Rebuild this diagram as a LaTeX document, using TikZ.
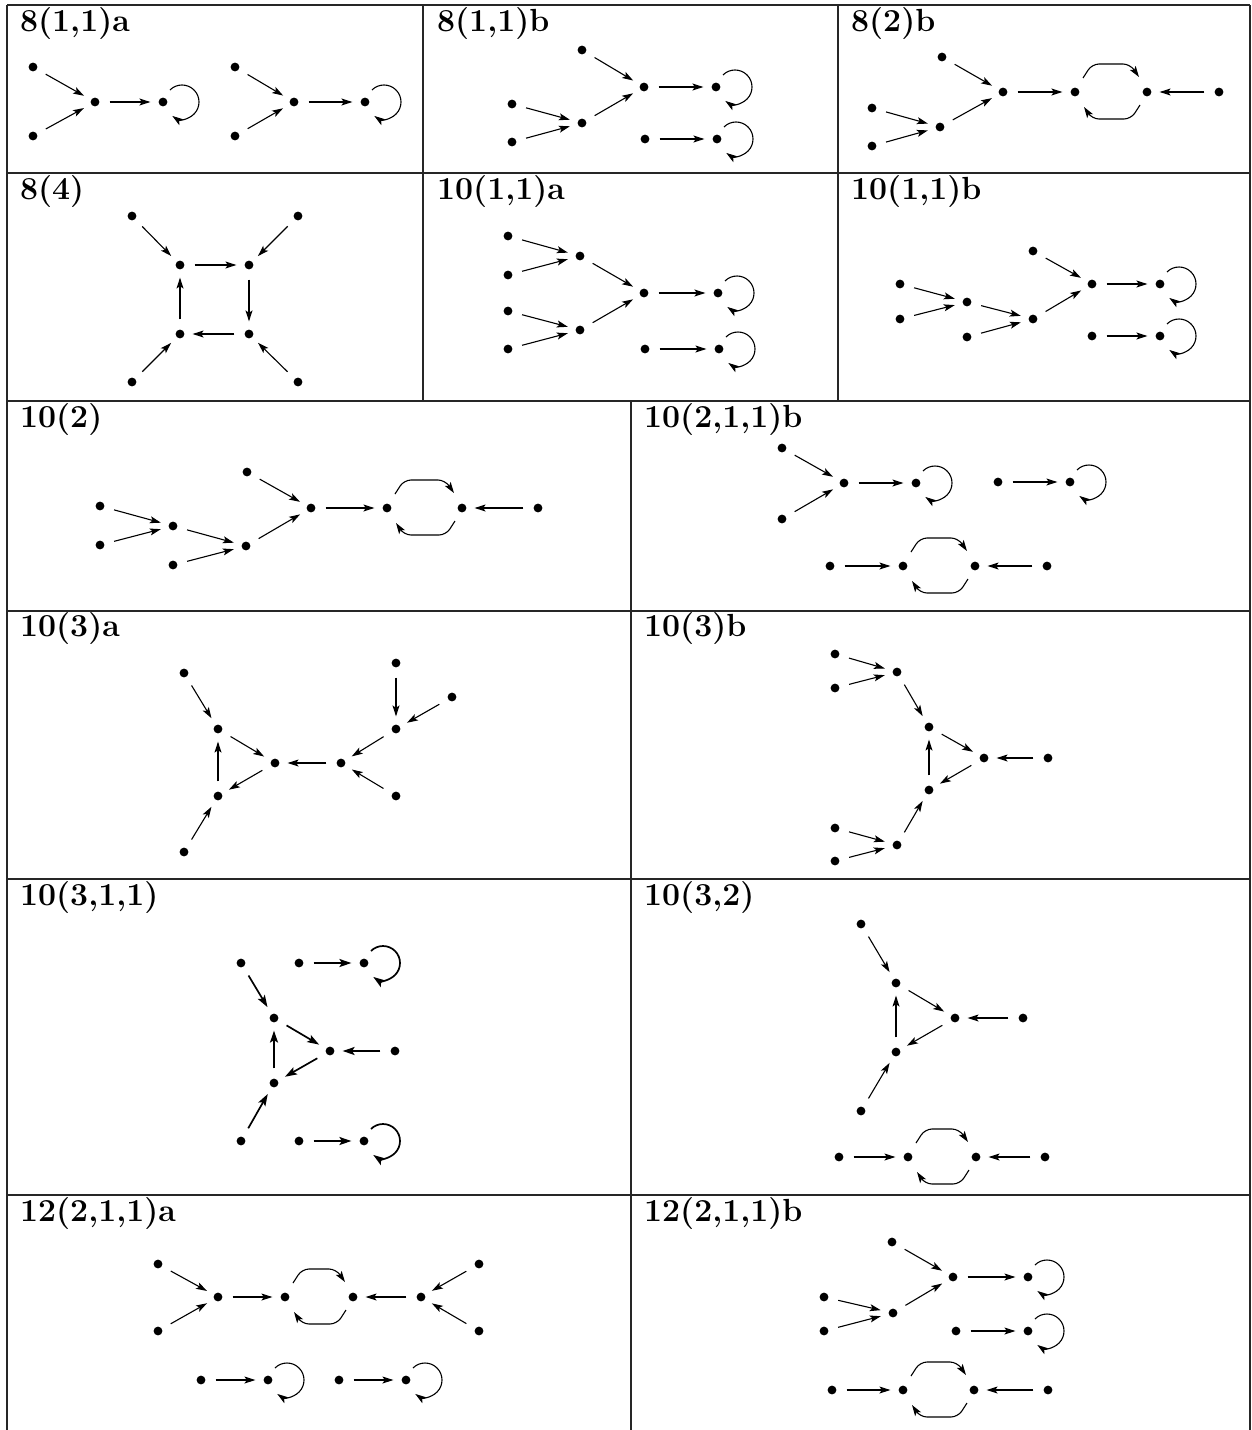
\documentclass[tikz,border=0pt]{standalone}
\usetikzlibrary{arrows.meta,calc}
\tikzset{
 dot/.style={circle,fill=black,inner sep=0pt,minimum size=8.8pt},
 arr/.style={line width=1.1pt,-{Stealth[length=11pt,width=7pt,inset=2.5pt]}},
 edg/.style={arr,shorten <=10pt,shorten >=8pt},
 gridline/.style={line width=1.4pt,black!85},
 lab/.style={anchor=base west,inner sep=0pt,font=\fontsize{32}{36}\selectfont\bfseries}
}
\newcommand\mkv[3]{\node[dot] (#1) at (#2,-#3) {};}
\newcommand\mke[2]{\draw[edg] (#1) -- (#2);}
\newcommand\mkl[1]{\draw[arr] (#1) ++(19,0) ++(135:17) arc[start angle=135,end angle=-125,radius=17];}
\newcommand\mkc[2]{%
 \draw[arr,rounded corners=7pt] ($(#1)+(8,14)$) -- ($(#1)+(17,28)$) -- ($(#2)+(-17,28)$) -- ($(#2)+(-8,15)$);
 \draw[arr,rounded corners=7pt] ($(#2)+(-7,-13)$) -- ($(#2)+(-16,-27)$) -- ($(#1)+(17,-27)$) -- ($(#1)+(9,-15)$);}
\begin{document}
\begin{tikzpicture}[x=1pt,y=1pt]
\fill[white] (0,0) rectangle (1252,-1430);
\useasboundingbox (0,0) rectangle (1252,-1430);
% grid
\draw[gridline] (7,-5) -- (1250,-5);
\draw[gridline] (7,-173) -- (1250,-173);
\draw[gridline] (7,-401) -- (1250,-401);
\draw[gridline] (7,-611) -- (1250,-611);
\draw[gridline] (7,-879) -- (1250,-879);
\draw[gridline] (7,-1195) -- (1250,-1195);
\draw[gridline] (7,-5) -- (7,-1430);
\draw[gridline] (1250,-5) -- (1250,-1430);
\draw[gridline] (423,-5) -- (423,-401);
\draw[gridline] (838,-5) -- (838,-401);
\draw[gridline] (631,-401) -- (631,-1430);
% labels
\node[lab] (l1) at (20,-31) {8(1,1)a};
\node[lab] (l2) at (437,-31) {8(1,1)b};
\node[lab] (l3) at (851,-31) {8(2)b};
\node[lab] (l4) at (20,-199) {8(4)};
\node[lab] (l5) at (437,-199) {10(1,1)a};
\node[lab] (l6) at (851,-199) {10(1,1)b};
\node[lab] (l7) at (20,-427) {10(2)};
\node[lab] (l8) at (644,-427) {10(2,1,1)b};
\node[lab] (l9) at (20,-636) {10(3)a};
\node[lab] (l10) at (644,-636) {10(3)b};
\node[lab] (l11) at (20,-905) {10(3,1,1)};
\node[lab] (l12) at (644,-905) {10(3,2)};
\node[lab] (l13) at (20,-1221) {12(2,1,1)a};
\node[lab] (l14) at (644,-1221) {12(2,1,1)b};
% 8(1,1)a
\mkv{a1}{33}{67}\mkv{a2}{33}{136}\mkv{a3}{95}{102}\mkv{a4}{163}{102}
\mkv{b1}{235}{67}\mkv{b2}{235}{136}\mkv{b3}{294}{102}\mkv{b4}{365}{102}
\mke{a1}{a3}\mke{a2}{a3}\mke{a3}{a4}\mkl{a4}
\mke{b1}{b3}\mke{b2}{b3}\mke{b3}{b4}\mkl{b4}
% 8(1,1)b
\mkv{c1}{582}{50}\mkv{c2}{644}{87}\mkv{c3}{716}{87}\mkv{c4}{512}{104}
\mkv{c5}{512}{142}\mkv{c6}{582}{123}\mkv{c7}{645}{139}\mkv{c8}{717}{139}
\mke{c1}{c2}\mke{c6}{c2}\mke{c4}{c6}\mke{c5}{c6}\mke{c2}{c3}\mkl{c3}
\mke{c7}{c8}\mkl{c8}
% 8(2)b
\mkv{d1}{942}{57}\mkv{d2}{1003}{92}\mkv{d3}{940}{127}\mkv{d4}{872}{108}
\mkv{d5}{872}{146}\mkv{d6}{1075}{92}\mkv{d7}{1147}{92}\mkv{d8}{1219}{92}
\mke{d1}{d2}\mke{d3}{d2}\mke{d4}{d3}\mke{d5}{d3}\mke{d2}{d6}\mkc{d6}{d7}\mke{d8}{d7}
% 8(4)
\mkv{s1}{180}{265}\mkv{s2}{249}{265}\mkv{s3}{249}{334}\mkv{s4}{180}{334}
\mkv{s5}{132}{216}\mkv{s6}{298}{216}\mkv{s7}{298}{382}\mkv{s8}{132}{382}
\mke{s1}{s2}\mke{s2}{s3}\mke{s3}{s4}\mke{s4}{s1}
\mke{s5}{s1}\mke{s6}{s2}\mke{s7}{s3}\mke{s8}{s4}
% 10(1,1)a
\mkv{f1}{508}{236}\mkv{f2}{508}{275}\mkv{f3}{508}{311}\mkv{f4}{508}{349}
\mkv{f5}{580}{256}\mkv{f6}{580}{330}\mkv{f7}{644}{293}\mkv{f8}{718}{293}
\mkv{f9}{645}{349}\mkv{f10}{719}{349}
\mke{f1}{f5}\mke{f2}{f5}\mke{f3}{f6}\mke{f4}{f6}\mke{f5}{f7}\mke{f6}{f7}
\mke{f7}{f8}\mkl{f8}\mke{f9}{f10}\mkl{f10}
% 10(1,1)b
\mkv{g1}{900}{284}\mkv{g2}{900}{319}\mkv{g3}{967}{302}\mkv{g4}{967}{337}
\mkv{g5}{1033}{319}\mkv{g6}{1033}{251}\mkv{g7}{1092}{284}\mkv{g8}{1160}{284}
\mkv{g9}{1092}{336}\mkv{g10}{1160}{336}
\mke{g1}{g3}\mke{g2}{g3}\mke{g3}{g5}\mke{g4}{g5}\mke{g5}{g7}\mke{g6}{g7}
\mke{g7}{g8}\mkl{g8}\mke{g9}{g10}\mkl{g10}
% 10(2)
\mkv{h1}{100}{506}\mkv{h2}{100}{545}\mkv{h3}{173}{526}\mkv{h4}{173}{565}
\mkv{h5}{246}{546}\mkv{h6}{247}{472}\mkv{h7}{311}{508}\mkv{h8}{387}{508}
\mkv{h9}{462}{508}\mkv{h10}{538}{508}
\mke{h1}{h3}\mke{h2}{h3}\mke{h3}{h5}\mke{h4}{h5}\mke{h5}{h7}\mke{h6}{h7}
\mke{h7}{h8}\mkc{h8}{h9}\mke{h10}{h9}
% 10(2,1,1)b
\mkv{k1}{782}{448}\mkv{k2}{844}{483}\mkv{k3}{916}{483}\mkv{k4}{782}{519}
\mkv{k5}{998}{482}\mkv{k6}{1070}{482}\mkv{k7}{830}{566}\mkv{k8}{903}{566}
\mkv{k9}{975}{566}\mkv{k10}{1047}{566}
\mke{k1}{k2}\mke{k4}{k2}\mke{k2}{k3}\mkl{k3}\mke{k5}{k6}\mkl{k6}
\mke{k7}{k8}\mkc{k8}{k9}\mke{k10}{k9}
% 10(3)a
\mkv{m1}{184}{673}\mkv{m2}{218}{729}\mkv{m3}{275}{763}\mkv{m4}{218}{796}
\mkv{m5}{184}{852}\mkv{m6}{341}{763}\mkv{m7}{396}{729}\mkv{m8}{396}{663}
\mkv{m9}{452}{697}\mkv{m10}{396}{796}
\mke{m1}{m2}\mke{m2}{m3}\mke{m3}{m4}\mke{m4}{m2}\mke{m5}{m4}
\mke{m6}{m3}\mke{m7}{m6}\mke{m10}{m6}\mke{m8}{m7}\mke{m9}{m7}
% 10(3)b
\mkv{n1}{835}{654}\mkv{n2}{835}{688}\mkv{n3}{897}{672}\mkv{n4}{929}{727}
\mkv{n5}{984}{758}\mkv{n6}{1048}{758}\mkv{n7}{929}{790}\mkv{n8}{835}{828}
\mkv{n9}{835}{861}\mkv{n10}{897}{845}
\mke{n1}{n3}\mke{n2}{n3}\mke{n3}{n4}\mke{n4}{n5}\mke{n5}{n7}\mke{n7}{n4}
\mke{n6}{n5}\mke{n8}{n10}\mke{n9}{n10}\mke{n10}{n7}
% 10(3,1,1)
\begin{scope}[arr/.append style={line width=1.7pt,-{Stealth[length=12pt,width=8pt,inset=2.5pt]}}]
\mkv{p1}{241}{963}\mkv{p2}{274}{1018}\mkv{p3}{330}{1051}\mkv{p4}{395}{1051}
\mkv{p5}{274}{1083}\mkv{p6}{241}{1141}\mkv{p7}{299}{963}\mkv{p8}{364}{963}
\mkv{p9}{299}{1141}\mkv{p10}{364}{1141}
\mke{p1}{p2}\mke{p2}{p3}\mke{p3}{p5}\mke{p5}{p2}\mke{p6}{p5}\mke{p4}{p3}
\mke{p7}{p8}\mkl{p8}\mke{p9}{p10}\mkl{p10}
\end{scope}
% 10(3,2)
\mkv{q1}{861}{924}\mkv{q2}{896}{983}\mkv{q3}{955}{1018}\mkv{q4}{1023}{1018}
\mkv{q5}{896}{1052}\mkv{q6}{861}{1111}\mkv{q7}{839}{1157}\mkv{q8}{908}{1157}
\mkv{q9}{976}{1157}\mkv{q10}{1045}{1157}
\mke{q1}{q2}\mke{q2}{q3}\mke{q3}{q5}\mke{q5}{q2}\mke{q6}{q5}\mke{q4}{q3}
\mke{q7}{q8}\mkc{q8}{q9}\mke{q10}{q9}
% 12(2,1,1)a
\mkv{r1}{158}{1264}\mkv{r2}{158}{1331}\mkv{r3}{218}{1297}\mkv{r4}{285}{1297}
\mkv{r5}{353}{1297}\mkv{r6}{421}{1297}\mkv{r7}{479}{1264}\mkv{r8}{479}{1331}
\mkv{r9}{201}{1380}\mkv{r10}{268}{1380}\mkv{r11}{339}{1380}\mkv{r12}{406}{1380}
\mke{r1}{r3}\mke{r2}{r3}\mke{r3}{r4}\mkc{r4}{r5}\mke{r6}{r5}\mke{r7}{r6}\mke{r8}{r6}
\mke{r9}{r10}\mkl{r10}\mke{r11}{r12}\mkl{r12}
% 12(2,1,1)b
\mkv{t1}{892}{1242}\mkv{t2}{953}{1277}\mkv{t3}{1028}{1277}\mkv{t4}{824}{1297}
\mkv{t5}{824}{1331}\mkv{t6}{893}{1313}\mkv{t7}{956}{1331}\mkv{t8}{1028}{1331}
\mkv{t9}{832}{1390}\mkv{t10}{903}{1390}\mkv{t11}{974}{1390}\mkv{t12}{1048}{1390}
\mke{t1}{t2}\mke{t6}{t2}\mke{t4}{t6}\mke{t5}{t6}\mke{t2}{t3}\mkl{t3}
\mke{t7}{t8}\mkl{t8}\mke{t9}{t10}\mkc{t10}{t11}\mke{t12}{t11}
\end{tikzpicture}
\end{document}
